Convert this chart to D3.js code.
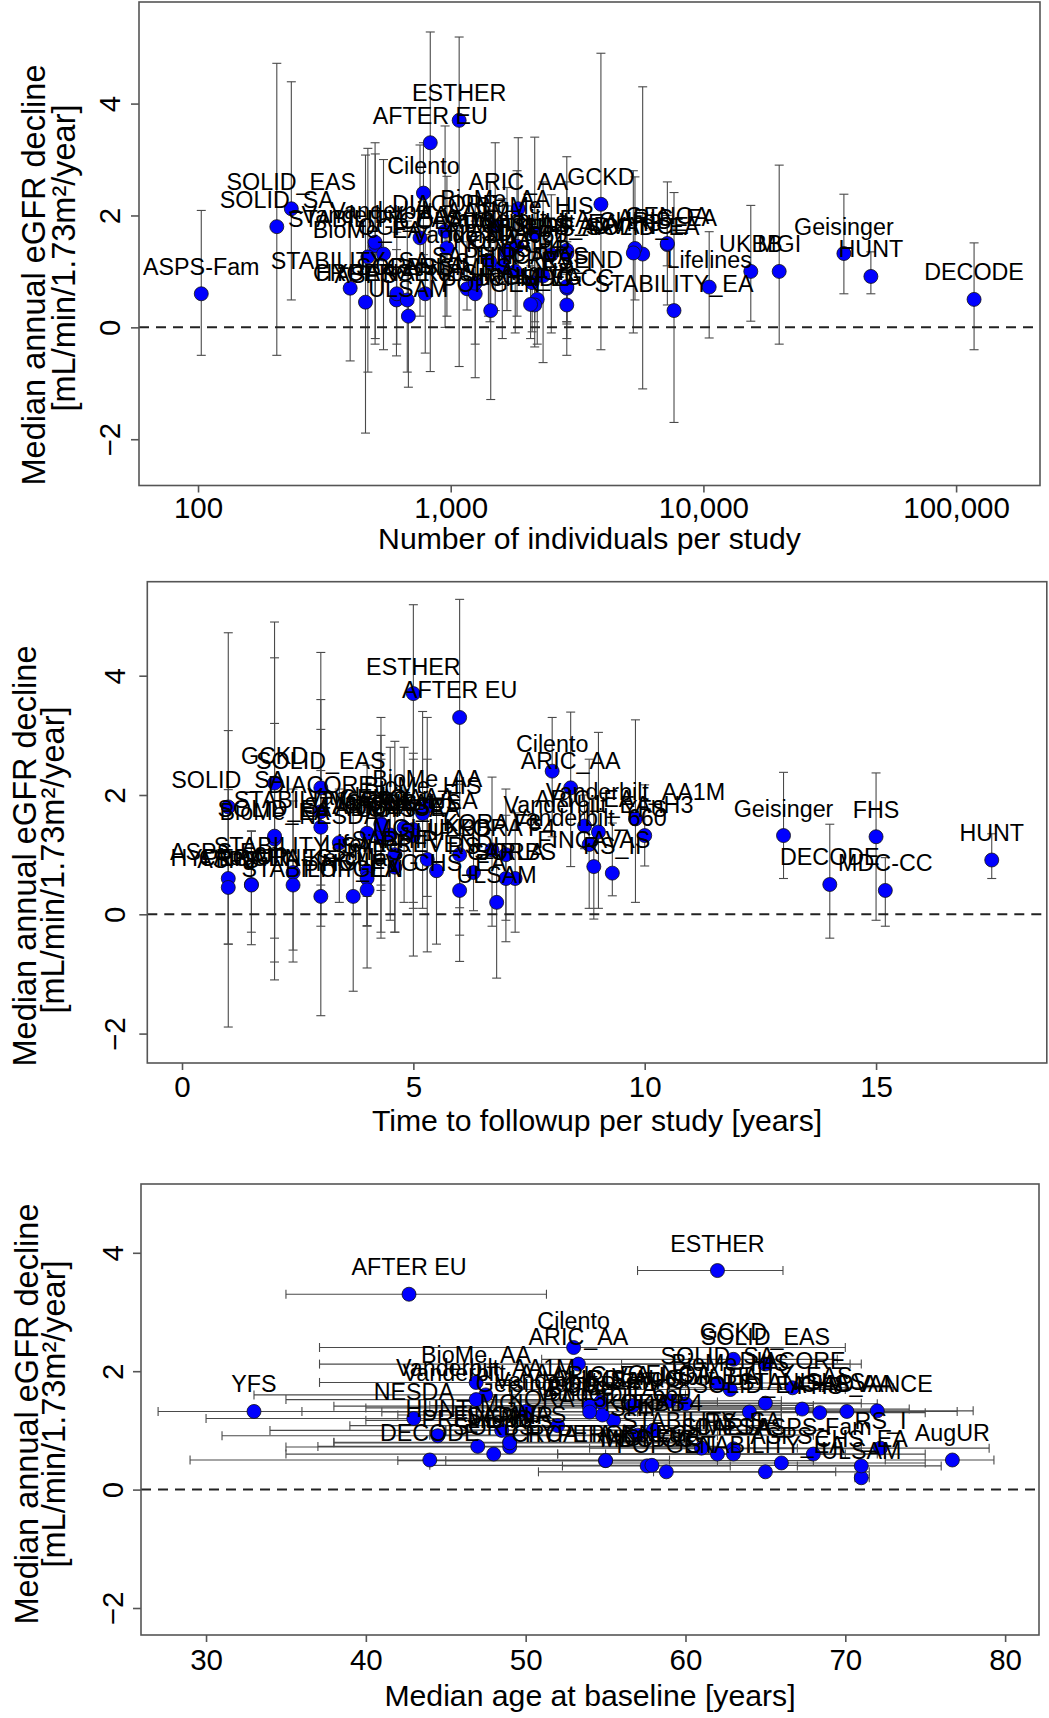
<!DOCTYPE html>
<html>
<head>
<meta charset="utf-8">
<script src="https://cdn.jsdelivr.net/npm/d3@7"></script>
<style>
  html, body { margin: 0; padding: 0; background: #fff; }
  svg text { font-family: "Liberation Sans", Arial, Helvetica, sans-serif; fill: #000; }
</style>
</head>
<body>
<div id="chart"></div>
<script>
// ---- data ----
const studies = [
  'ESTHER', 'AFTER EU', 'Cilento', 'ARIC_AA', 'GCKD', 'SOLID_EAS', 'SOLID_SA', 'ASPS-Fam', 'STABILITY_EA', 'Lifelines',
  'UKBB', 'MGI', 'Geisinger', 'HUNT', 'DECODE', 'FHS', 'MDC-CC', 'YFS', 'AugUR', 'ULSAM',
  'CHS_EA', 'RS_I', 'NESDA', 'BioMe_AA', 'Vanderbilt_AA1M', 'FINCAVAS', 'RS_II', 'Vanderbilt_660', 'Vanderbilt_EAnH3', 'ARIC_EA',
  'SIMES', 'HYPERGENES', 'STABILITY_SA', 'STABILITY_EAS', 'BioMe_EA', 'BioMe_HIS', 'DIACORE', 'SOLID_EA', 'CHRIS', 'KORA F3',
  'KORA F4', 'SHIP', 'PREVEND', 'OGP', 'Vanderbilt_AA', 'COLAUS', 'STANISLAS', 'SORBS', 'CARLA', 'GENOA',
  'CROATIA-Korcula', 'INGI-FVG', 'POPGEN', 'Vanderbilt_EA', 'CHS_AA', 'ADVANCE', 'ASPS', 'SAPHIR'
];
// median annual eGFR decline and its interval
const decline = [
  3.70, 3.30, 2.40, 2.12, 2.20, 2.12, 1.80, 0.60, 0.30, 0.72,
  1.00, 1.00, 1.32, 0.91, 0.50, 1.30, 0.40, 1.32, 0.50, 0.20,
  0.40, 0.70, 1.20, 1.81, 1.60, 0.80, 0.69, 1.17, 1.38, 1.48,
  0.60, 0.49, 0.70, 1.46, 1.26, 1.69, 1.72, 1.31, 1.41, 1.08,
  1.00, 0.92, 0.73, 1.31, 1.52, 1.42, 1.36, 0.60, 0.60, 1.50,
  0.49, 0.41, 0.30, 1.45, 1.32, 1.33, 0.45, 0.79
];
const declineLow = [
  -0.70, -0.79, 1.30, 0.80, -0.40, 0.49, -0.50, -0.50, -1.70, -0.19,
  0.11, -0.30, 0.60, 0.60, -0.40, -0.10, -0.20, 0.81, -0.30, -1.07,
  -0.35, 0.06, 0.20, 0.30, 0.20, -0.08, 0.31, 0.10, 0.10, 1.10,
  -0.90, -0.51, -0.60, -0.20, -0.80, 0.10, 0.00, -1.10, 0.49, -0.20,
  -0.10, -0.63, -0.50, -0.40, -0.30, 0.20, 0.30, -0.30, -0.46, 0.40,
  -0.80, -0.20, -1.29, 0.20, 0.10, -0.10, -1.89, -0.30
];
const declineHigh = [
  5.19, 5.28, 3.30, 3.39, 4.90, 4.39, 4.72, 2.09, 2.41, 1.71,
  2.18, 2.90, 2.38, 1.35, 1.51, 2.37, 0.95, 2.17, 1.40, 1.05,
  1.35, 1.53, 2.10, 3.30, 3.26, 1.95, 1.53, 2.60, 3.05, 2.00,
  2.20, 1.39, 2.10, 3.10, 3.20, 3.40, 3.60, 4.30, 2.69, 2.30,
  2.10, 2.60, 1.90, 3.00, 3.30, 2.70, 2.50, 1.70, 1.66, 2.60,
  1.90, 1.10, 1.90, 2.80, 2.60, 2.80, 3.08, 1.90
];
const sampleSize = [
  1080, 830, 780, 1850, 3930, 234, 205, 103, 7650, 10540,
  15400, 19950, 35970, 46000, 117800, 2500, 2880, 1670, 2200, 680,
  2150, 2880, 1410, 1500, 756, 2100, 1160, 1430, 2880, 7190,
  1250, 610, 400, 503, 470, 2150, 950, 5750, 5360, 1600,
  1800, 2320, 2880, 542, 502, 966, 1670, 612, 793, 7200,
  673, 2070, 1440, 1830, 2880, 5280, 460, 1250
];
const followupYears = [
  5.0, 6.0, 8.0, 8.4, 2.0, 3.0, 1.0, 1.0, 3.0, 4.0,
  6.0, 4.6, 13.0, 17.5, 14.0, 15.0, 15.2, 10.0, 1.5, 6.8,
  6.0, 6.3, 3.4, 5.3, 9.8, 8.9, 9.3, 8.8, 9.0, 8.7,
  4.0, 1.5, 2.4, 3.0, 2.0, 5.2, 3.0, 2.0, 4.3, 6.7,
  7.0, 5.3, 5.5, 4.3, 4.3, 5.0, 4.0, 7.2, 7.0, 4.3,
  2.4, 4.0, 3.7, 4.8, 5.0, 4.5, 1.0, 4.6
];
const ageMedian = [
  62.0, 42.7, 53.0, 53.3, 63.0, 65.0, 62.0, 68.0, 65.0, 49.0,
  58.0, 48.5, 50.0, 44.5, 44.0, 68.4, 57.6, 33.0, 76.7, 71.0,
  71.0, 72.2, 43.0, 46.9, 47.5, 49.0, 63.0, 55.5, 54.0, 54.7,
  62.0, 55.0, 61.0, 65.0, 54.8, 62.8, 66.7, 64.0, 54.0, 52.0,
  58.0, 57.0, 47.0, 54.0, 46.9, 56.7, 67.3, 48.0, 63.0, 59.0,
  55.0, 57.9, 58.8, 60.0, 70.1, 72.0, 66.0, 49.0
];
const ageLow = [
  57.0, 35.0, 37.1, 37.1, 51.0, 56.0, 52.0, 55.0, 58.0, 35.0,
  45.0, 34.0, 33.0, 31.0, 29.0, 60.0, 52.3, 27.0, 72.5, 70.6,
  67.0, 64.0, 30.0, 37.1, 33.0, 38.0, 58.0, 40.0, 40.0, 47.0,
  52.0, 45.0, 54.0, 58.0, 42.0, 49.0, 59.0, 57.0, 38.0, 39.0,
  45.0, 44.0, 37.0, 41.0, 35.0, 44.0, 60.0, 35.0, 52.0, 48.0,
  42.0, 44.0, 50.8, 50.0, 66.0, 67.0, 55.0, 38.0
];
const ageHigh = [
  66.1, 51.3, 70.0, 71.0, 69.5, 70.3, 68.5, 75.0, 71.5, 62.0,
  66.0, 64.0, 67.0, 62.0, 59.0, 75.0, 62.8, 36.0, 79.3, 71.5,
  76.0, 79.0, 58.0, 60.0, 60.0, 60.0, 71.0, 66.0, 68.0, 62.0,
  70.0, 62.0, 67.0, 71.0, 66.0, 70.0, 73.0, 70.0, 66.0, 66.0,
  69.0, 68.0, 62.0, 66.0, 60.0, 68.0, 74.0, 62.0, 72.0, 66.0,
  68.0, 71.0, 69.4, 72.0, 77.0, 78.0, 75.0, 60.0
];
const yTickValues = [-2, 0, 2, 4];
const nTickValues = [100, 1000, 10000, 100000];
const followupTickValues = [0, 5, 10, 15];
const ageTickValues = [30, 40, 50, 60, 70, 80];
const yTitle = ['Median annual eGFR decline', '[mL/min/1.73m\u00B2/year]'];

const rows = studies.map((name, i) => ({
  name,
  v: decline[i], lo: declineLow[i], hi: declineHigh[i],
  n: sampleSize[i], fu: followupYears[i],
  age: ageMedian[i], ageLo: ageLow[i], ageHi: ageHigh[i]
}));

// ---- layout ----
const W = 1049, H = 1718;
const svg = d3.select('#chart').append('svg')
  .attr('width', W).attr('height', H)
  .attr('viewBox', `0 0 ${W} ${H}`);

const panels = [
  {
    box: { x0: 139, x1: 1040, y0: 2, y1: 485.5 },
    x: d3.scaleLog().domain([58.4, 214800]),
    xValue: d => d.n, xTicks: nTickValues, xFormat: d3.format(','),
    xTitle: 'Number of individuals per study',
    yDomain: [-2.827, 5.816], errors: 'vertical',
    yt: { tick: 120, l1: 45, l2: 75, c1: 275, c2: 258 }, xt: { tick: 518, title: 549 }
  },
  {
    box: { x0: 147.3, x1: 1046.8, y0: 581.7, y1: 1063 },
    x: d3.scaleLinear().domain([-0.75, 18.69]),
    xValue: d => d.fu, xTicks: followupTickValues, xFormat: d3.format('d'),
    xTitle: 'Time to followup per study [years]',
    yDomain: [-2.493, 5.576], errors: 'vertical',
    yt: { tick: 125, l1: 36, l2: 64, c1: 856, c2: 860 }, xt: { tick: 1097, title: 1131 }
  },
  {
    box: { x0: 141, x1: 1039, y0: 1184, y1: 1635 },
    x: d3.scaleLinear().domain([25.93, 82.12]),
    xValue: d => d.age, xTicks: ageTickValues, xFormat: d3.format('d'),
    xTitle: 'Median age at baseline [years]',
    yDomain: [-2.456, 5.162], errors: 'horizontal',
    yt: { tick: 123, l1: 38, l2: 65, c1: 1414, c2: 1414 }, xt: { tick: 1670, title: 1706 }
  }
];

const AXIS_COL = '#555';
const TICK_FONT = 29.5, TITLE_FONT = 30.2, YTITLE_FONT = 32.5, LABEL_FONT = 23.3;
const CAP = 4.5;

panels.forEach(p => {
  const b = p.box;
  const x = p.x.range([b.x0, b.x1]);
  const y = d3.scaleLinear().domain(p.yDomain).range([b.y1, b.y0]);
  const g = svg.append('g');

  // error bars
  const bars = g.append('g')
    .attr('stroke', '#4a4a4a').attr('stroke-width', 1.1).attr('fill', 'none');
  rows.forEach(d => {
    const px = x(p.xValue(d)), py = y(d.v);
    if (p.errors === 'vertical') {
      const yl = y(d.lo), yh = y(d.hi);
      bars.append('line').attr('x1', px).attr('x2', px).attr('y1', yl).attr('y2', yh);
      bars.append('line').attr('x1', px - CAP).attr('x2', px + CAP).attr('y1', yl).attr('y2', yl);
      bars.append('line').attr('x1', px - CAP).attr('x2', px + CAP).attr('y1', yh).attr('y2', yh);
    } else {
      const xl = x(d.ageLo), xh = x(d.ageHi);
      bars.append('line').attr('x1', xl).attr('x2', xh).attr('y1', py).attr('y2', py);
      bars.append('line').attr('x1', xl).attr('x2', xl).attr('y1', py - CAP).attr('y2', py + CAP);
      bars.append('line').attr('x1', xh).attr('x2', xh).attr('y1', py - CAP).attr('y2', py + CAP);
    }
  });

  // zero reference line
  g.append('line')
    .attr('x1', b.x0).attr('x2', b.x1)
    .attr('y1', y(0)).attr('y2', y(0))
    .attr('stroke', '#222').attr('stroke-width', 2)
    .attr('stroke-dasharray', '10,7');

  // points
  g.append('g').selectAll('circle').data(rows).join('circle')
    .attr('cx', d => x(p.xValue(d)))
    .attr('cy', d => y(d.v))
    .attr('r', 7)
    .attr('fill', '#0000ff')
    .attr('stroke', '#111')
    .attr('stroke-width', 0.8);

  // study labels above points
  g.append('g').selectAll('text').data(rows).join('text')
    .attr('x', d => x(p.xValue(d)))
    .attr('y', d => y(d.v) - 19)
    .attr('text-anchor', 'middle')
    .style('font-size', LABEL_FONT + 'px')
    .text(d => d.name);

  // box
  g.append('rect')
    .attr('x', b.x0).attr('y', b.y0)
    .attr('width', b.x1 - b.x0).attr('height', b.y1 - b.y0)
    .attr('fill', 'none').attr('stroke', AXIS_COL).attr('stroke-width', 1.6);

  // x axis
  const xAxis = g.append('g')
    .attr('transform', `translate(0,${b.y1})`)
    .call(d3.axisBottom(x).tickValues(p.xTicks).tickFormat(p.xFormat).tickSize(7).tickSizeOuter(0));
  xAxis.select('.domain').remove();
  xAxis.selectAll('.tick line').attr('stroke', AXIS_COL).attr('stroke-width', 1.6);
  xAxis.selectAll('.tick text')
    .attr('y', p.xt.tick - b.y1).attr('dy', null)
    .style('font-size', TICK_FONT + 'px');

  // y axis
  const yAxis = g.append('g')
    .attr('transform', `translate(${b.x0},0)`)
    .call(d3.axisLeft(y).tickValues(yTickValues).tickFormat(d3.format('d')).tickSize(8).tickSizeOuter(0));
  yAxis.select('.domain').remove();
  yAxis.selectAll('.tick line').attr('stroke', AXIS_COL).attr('stroke-width', 1.6);
  yAxis.selectAll('.tick text')
    .attr('x', 0).attr('dy', null)
    .attr('y', p.yt.tick - b.x0)
    .attr('text-anchor', 'middle')
    .attr('transform', 'rotate(-90)')
    .style('font-size', TICK_FONT + 'px');

  // axis titles
  g.append('text')
    .attr('x', (b.x0 + b.x1) / 2).attr('y', p.xt.title)
    .attr('text-anchor', 'middle')
    .style('font-size', TITLE_FONT + 'px')
    .text(p.xTitle);

  [[p.yt.l1, p.yt.c1], [p.yt.l2, p.yt.c2]].forEach(([bx, cy], i) => {
    g.append('text')
      .attr('transform', `translate(${bx},${cy}) rotate(-90)`)
      .attr('text-anchor', 'middle')
      .style('font-size', YTITLE_FONT + 'px')
      .text(yTitle[i]);
  });
});
</script>
</body>
</html>
